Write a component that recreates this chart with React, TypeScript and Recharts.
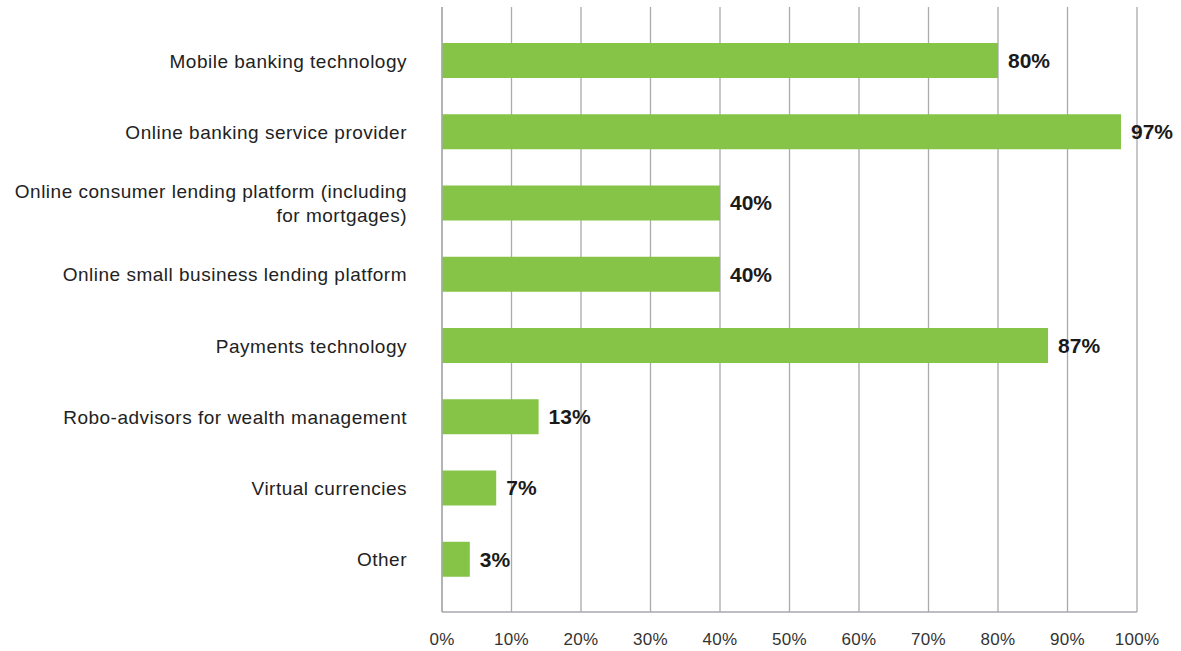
import { BarChart, Bar, XAxis, YAxis, CartesianGrid, LabelList } from 'recharts';

const categories = [
  'Mobile banking technology',
  'Online banking service provider',
  'Online consumer lending platform (including\nfor mortgages)',
  'Online small business lending platform',
  'Payments technology',
  'Robo-advisors for wealth management',
  'Virtual currencies',
  'Other',
];
// bar lengths as drawn, and the printed labels
const shares = [80, 97.7, 40, 40, 87.2, 13.9, 7.8, 4];
const shareLabels = ['80%', '97%', '40%', '40%', '87%', '13%', '7%', '3%'];
const xTicks = [0, 10, 20, 30, 40, 50, 60, 70, 80, 90, 100];

const GREEN = '#85c447';
const GRID = '#a9a9ae';
const FONT = '"Liberation Sans", Arial, sans-serif';

const data = categories.map((name, i) => ({ name, value: shares[i], label: shareLabels[i] }));

// wrapped, right-aligned category label
const CategoryTick = ({ x, y, payload }: { x?: number; y?: number; payload?: { value: string } }) => {
  const lines = String(payload?.value ?? '').split('\n');
  const lh = 24;
  const y0 = (y ?? 0) - ((lines.length - 1) * lh) / 2;
  return (
    <text
      x={x}
      y={y0}
      textAnchor="end"
      fill="#222"
      fontSize={19}
      letterSpacing={0.5}
      fontFamily={FONT}
      dominantBaseline="central"
    >
      {lines.map((l, i) => (
        <tspan key={i} x={x} y={y0 + i * lh}>{l}</tspan>
      ))}
    </text>
  );
};

export default function App() {
  return (
    <div style={{ position: 'absolute', left: 0, top: 0, width: 1181, height: 651, background: '#fff' }}>
      <BarChart
        width={1181}
        height={651}
        data={data}
        layout="vertical"
        margin={{ top: 7, right: 44, bottom: 0, left: 0 }}
      >
        <CartesianGrid horizontal={false} stroke={GRID} strokeWidth={1.3} />
        <XAxis
          type="number"
          domain={[0, 100]}
          ticks={xTicks}
          tickFormatter={(v) => `${v}%`}
          axisLine={{ stroke: GRID, strokeWidth: 1.3 }}
          tickLine={false}
          height={39}
          tickMargin={15}
          tick={{ fill: '#333', fontSize: 17, fontFamily: FONT, letterSpacing: 0.3 }}
        />
        <XAxis
          xAxisId="top"
          orientation="top"
          type="number"
          domain={[0, 100]}
          height={0}
          tick={false}
          tickLine={false}
          axisLine={{ stroke: GRID, strokeWidth: 1.3 }}
        />
        <YAxis
          type="category"
          dataKey="name"
          width={442}
          padding={{ top: 18, bottom: 17 }}
          axisLine={{ stroke: GRID, strokeWidth: 1.3 }}
          tickLine={false}
          tickMargin={29}
          tick={<CategoryTick />}
          interval={0}
        />
        <Bar dataKey="value" fill={GREEN} barSize={35} isAnimationActive={false}>
          <LabelList
            dataKey="label"
            position="right"
            offset={10}
            fill="#1a1a1a"
            fontSize={21}
            fontWeight="bold"
            fontFamily={FONT}
          />
        </Bar>
      </BarChart>
    </div>
  );
}
